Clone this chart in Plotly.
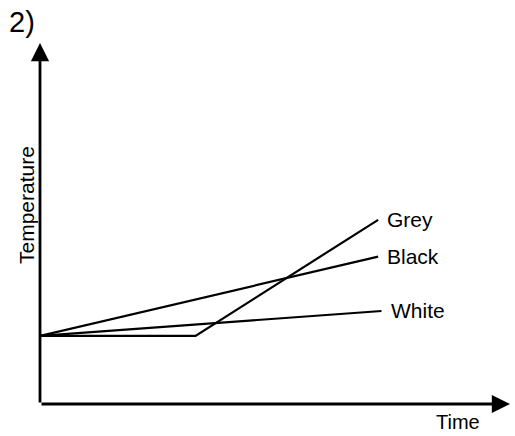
import plotly.graph_objects as go

# Heating curves: temperature against time for three surface colours
series_names = ["Grey", "Black", "White"]
grey_time = [0.0, 4.6, 10.0]
grey_temp = [3.7, 3.7, 10.0]
black_time = [0.0, 10.0]
black_temp = [3.7, 8.0]
white_time = [0.0, 10.1]
white_temp = [3.7, 5.05]

x_max = 13.9
y_max = 19.6

FONT = "Liberation Sans, Arial, sans-serif"

fig = go.Figure()
for name, xs, ys in zip(series_names,
                        [grey_time, black_time, white_time],
                        [grey_temp, black_temp, white_temp]):
    fig.add_trace(go.Scatter(x=xs, y=ys, mode="lines", name=name,
                             line=dict(color="black", width=2.2),
                             cliponaxis=False, showlegend=False))
    fig.add_annotation(x=xs[-1], y=ys[-1], text=name, showarrow=False,
                       xanchor="left", yanchor="middle", xshift=7,
                       font=dict(family=FONT, size=21, color="black"))

# Axes drawn as arrows from the origin
fig.add_annotation(x=x_max, y=0, ax=0, ay=0, axref="x", ayref="y",
                   xref="x", yref="y", text="", showarrow=True,
                   arrowhead=2, arrowsize=1.3, arrowwidth=2.8, arrowcolor="black")
fig.add_annotation(x=0, y=y_max, ax=0, ay=0, axref="x", ayref="y",
                   xref="x", yref="y", text="", showarrow=True,
                   arrowhead=2, arrowsize=1.3, arrowwidth=2.8, arrowcolor="black")

W, H = 515, 436
L, R, T, B = 40, 5, 43, 32


def px_to_paper(px, py):
    return (px - L) / (W - L - R), 1 - (py - T) / (H - T - B)


# Axis titles and panel number
for text, px, py, size, angle in [("Time", 458, 422, 20, 0),
                                  ("Temperature", 27, 205, 21, -90),
                                  ("2)", 22, 22, 29, 0)]:
    xp, yp = px_to_paper(px, py)
    fig.add_annotation(x=xp, y=yp, xref="paper", yref="paper", text=text,
                       xanchor="center", yanchor="middle", textangle=angle,
                       showarrow=False,
                       font=dict(family=FONT, size=size, color="black"))

fig.update_layout(
    width=W, height=H,
    margin=dict(l=L, r=R, t=T, b=B),
    paper_bgcolor="white", plot_bgcolor="white",
    xaxis=dict(range=[0, x_max], visible=False),
    yaxis=dict(range=[0, y_max], visible=False),
)

fig.write_html("out.html")
